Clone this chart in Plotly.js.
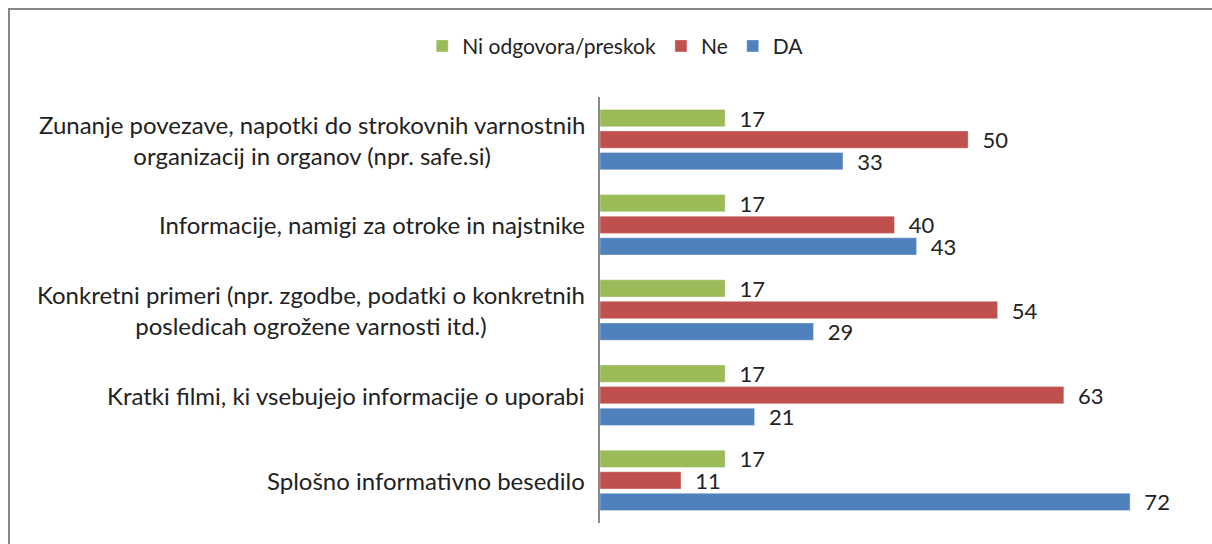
<!DOCTYPE html>
<html>
<head>
<meta charset="utf-8">
<script src="https://cdn.plot.ly/plotly-3.0.1.min.js"></script>
<style>
  html, body { margin: 0; padding: 0; background: #fff; }
  #wrap { position: relative; width: 1212px; height: 544px; overflow: hidden; }
  #chart { position: absolute; left: 0; top: 0; width: 1212px; height: 544px; }
  #frame { position: absolute; left: 8px; top: 8px; width: 1300px; height: 700px;
           border-left: 2px solid #878787; border-top: 2px solid #878787; pointer-events: none; }
</style>
</head>
<body>
<div id="wrap">
  <div id="chart"></div>
  <div id="frame"></div>
</div>
<script>
const categories = [
  "Zunanje povezave, napotki do strokovnih varnostnih<br>organizacij in organov (npr. safe.si)",
  "Informacije, namigi za otroke in najstnike",
  "Konkretni primeri (npr. zgodbe, podatki o konkretnih<br>posledicah ogrožene varnosti itd.)",
  "Kratki filmi, ki vsebujejo informacije o uporabi",
  "Splošno informativno besedilo"
];
const seriesNames = ["Ni odgovora/preskok", "Ne", "DA"];
const niOdgovora = [17, 17, 17, 17, 17];
const ne = [50, 40, 54, 63, 11];
const da = [33, 43, 29, 21, 72];
const seriesColors = ["#9BBB59", "#C0504D", "#4F81BD"];

const FONT = "Lato, 'Liberation Sans', sans-serif";
const values = [niOdgovora, ne, da];

const traces = values.map((v, i) => ({
  type: "bar",
  orientation: "h",
  name: seriesNames[i],
  x: v,
  y: categories,
  marker: { color: seriesColors[i], line: { color: "rgba(255,255,255,0.35)", width: 1 } },
  text: v.map(String),
  texttemplate: "\u00a0\u00a0%{text}",
  textposition: "outside",
  constraintext: "none",
  cliponaxis: false,
  textfont: { family: FONT, size: 22, color: "#222" },
  hoverinfo: "x+name"
}));

const annotations = categories.map(c => ({
  xref: "paper", yref: "y",
  x: 0, y: c,
  xanchor: "right", yanchor: "middle",
  xshift: -13,
  align: "center",
  text: c,
  showarrow: false,
  font: { family: FONT, size: 24, color: "#222" }
}));

const layout = {
  width: 1212, height: 544,
  margin: { l: 600, r: 23, t: 97, b: 21, pad: 0 },
  paper_bgcolor: "#fff", plot_bgcolor: "#fff",
  barmode: "group",
  bargap: 0.24,
  bargroupgap: 0.2,
  font: { family: FONT, color: "#222" },
  showlegend: true,
  legend: {
    orientation: "h",
    xref: "container", yref: "container",
    x: 0.508, xanchor: "center",
    y: 0.915, yanchor: "middle",
    font: { family: FONT, size: 21, color: "#222" },
    traceorder: "normal",
    itemclick: false
  },
  xaxis: {
    range: [0, 80],
    showgrid: false, zeroline: false, showline: false,
    showticklabels: false, ticks: ""
  },
  yaxis: {
    type: "category",
    autorange: "reversed",
    showgrid: false, zeroline: false,
    showline: true, linecolor: "#8a8a8a", linewidth: 2,
    showticklabels: false, ticks: ""
  },
  annotations: annotations
};

Plotly.newPlot("chart", traces, layout, { displayModeBar: false, staticPlot: true });
</script>
</body>
</html>
